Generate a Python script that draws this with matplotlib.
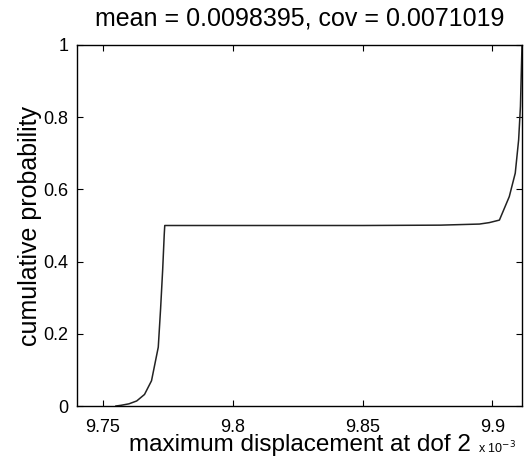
import numpy as np
import matplotlib
matplotlib.use("Agg")
import matplotlib.pyplot as plt
from matplotlib.ticker import FormatStrFormatter

plt.rcParams['font.family'] = ['Liberation Sans', 'DejaVu Sans']

# displacement values (x 10^-3) and cumulative probability
disp = [9.7550, 9.7570, 9.7600, 9.7630, 9.7660, 9.7687, 9.7713, 9.7722, 9.7730,
        9.7736, 9.7738, 9.80, 9.85, 9.88, 9.895, 9.8988, 9.9027, 9.9065, 9.9088,
        9.9101, 9.9108, 9.9114]
cdf = [0.0, 0.002, 0.006, 0.014, 0.032, 0.07, 0.163, 0.27, 0.378, 0.475, 0.5,
       0.5, 0.5, 0.501, 0.504, 0.508, 0.515, 0.58, 0.645, 0.737, 0.83, 1.0]

xticks = [9.75, 9.8, 9.85, 9.9]
yticks = [0, 0.2, 0.4, 0.6, 0.8, 1]
title = "mean = 0.0098395, cov = 0.0071019"

fig = plt.figure(figsize=(5.26, 4.62), dpi=100)
ax = fig.add_axes([0.1464, 0.1212, 0.8460, 0.7814])

ax.plot(disp, cdf, color="#222222", lw=1.1)

ax.set_xlim(9.740, 9.9114)
ax.set_ylim(0, 1)
ax.set_xticks(xticks)
ax.set_yticks(yticks)
ax.xaxis.set_major_formatter(FormatStrFormatter('%g'))
ax.yaxis.set_major_formatter(FormatStrFormatter('%g'))
ax.tick_params(direction='in', top=True, right=True, length=4, width=0.8,
               labelsize=13)
ax.tick_params(axis='x', pad=9)
ax.tick_params(axis='y', pad=6)
for s in ax.spines.values():
    s.set_linewidth(1.0)

ax.set_title(title, fontsize=18, pad=14)
ax.set_xlabel("maximum displacement at dof 2", fontsize=17.5, labelpad=-1)
ax.set_ylabel("cumulative probability", fontsize=18, labelpad=1)
ax.text(478, 9, r"x 10$^{-3}$", transform=None, fontsize=9,
        ha='left', va='baseline')

fig.savefig("out.png", dpi=100)
